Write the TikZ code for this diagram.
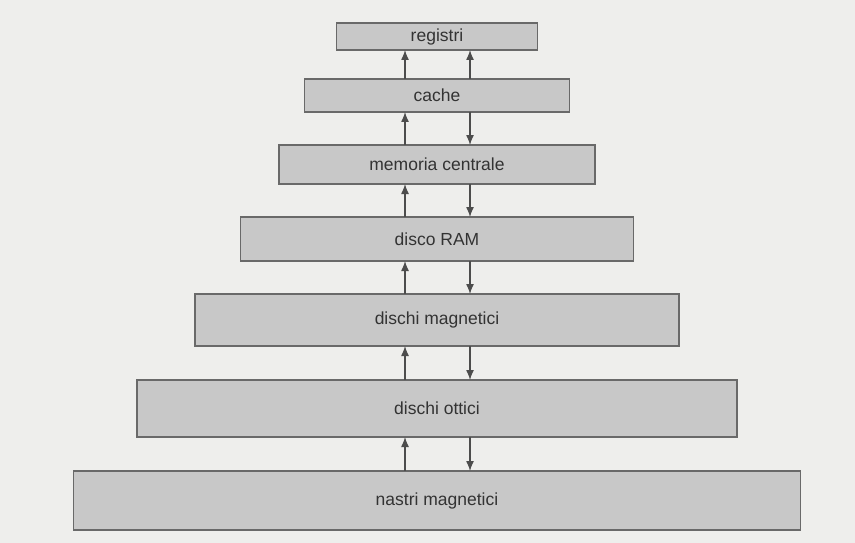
\documentclass[tikz,border=0pt]{standalone}
\usepackage{fontspec}
\setmainfont{Liberation Sans}
\usetikzlibrary{positioning,arrows.meta}
\definecolor{pagegray}{RGB}{238,238,236}
\definecolor{boxgray}{RGB}{200,200,200}
\definecolor{edgegray}{RGB}{105,105,105}
\tikzstyle{level}=[rectangle,draw=edgegray,fill=boxgray,line width=1.3pt,
text=black!80,font=\fontsize{17.5}{20}\selectfont,inner sep=0pt,outer sep=0pt]
\tikzstyle{link}=[-{Latex[length=10pt,width=8pt]},line width=1.3pt,draw=black!70]

\begin{document}
\begin{tikzpicture}[node distance=33pt]
            % page
            \useasboundingbox[fill=pagegray] (0,0) rectangle (855pt,-543pt);

            % LEVELS

            \node[level,minimum width=201pt,minimum height=27pt] (registri) at (437pt,-36.5pt) {registri};
            \node[level,below=29pt of registri,minimum width=265pt,minimum height=33pt] (cache) {cache};
            \node[level,below=of cache,minimum width=316pt,minimum height=39pt] (memoria) {memoria centrale};
            \node[level,below=of memoria,minimum width=393pt,minimum height=44pt] (ram) {disco RAM};
            \node[level,below=of ram,minimum width=484pt,minimum height=52pt] (magn) {dischi magnetici};
            \node[level,below=34pt of magn,minimum width=600pt,minimum height=57pt] (ottici) {dischi ottici};
            \node[level,below=34pt of ottici,minimum width=727pt,minimum height=59pt] (nastri) {nastri magnetici};

            % TRANSFERS

            \draw[link] ([xshift=-32pt]cache.north) -- ([xshift=-32pt]registri.south);
            \draw[link] ([xshift=33pt]cache.north) -- ([xshift=33pt]registri.south);

            \draw[link] ([xshift=-32pt]memoria.north) -- ([xshift=-32pt]cache.south);
            \draw[link] ([xshift=33pt]cache.south) -- ([xshift=33pt]memoria.north);

            \draw[link] ([xshift=-32pt]ram.north) -- ([xshift=-32pt]memoria.south);
            \draw[link] ([xshift=33pt]memoria.south) -- ([xshift=33pt]ram.north);

            \draw[link] ([xshift=-32pt]magn.north) -- ([xshift=-32pt]ram.south);
            \draw[link] ([xshift=33pt]ram.south) -- ([xshift=33pt]magn.north);

            \draw[link] ([xshift=-32pt]ottici.north) -- ([xshift=-32pt]magn.south);
            \draw[link] ([xshift=33pt]magn.south) -- ([xshift=33pt]ottici.north);

            \draw[link] ([xshift=-32pt]nastri.north) -- ([xshift=-32pt]ottici.south);
            \draw[link] ([xshift=33pt]ottici.south) -- ([xshift=33pt]nastri.north);

\end{tikzpicture}
\end{document}
